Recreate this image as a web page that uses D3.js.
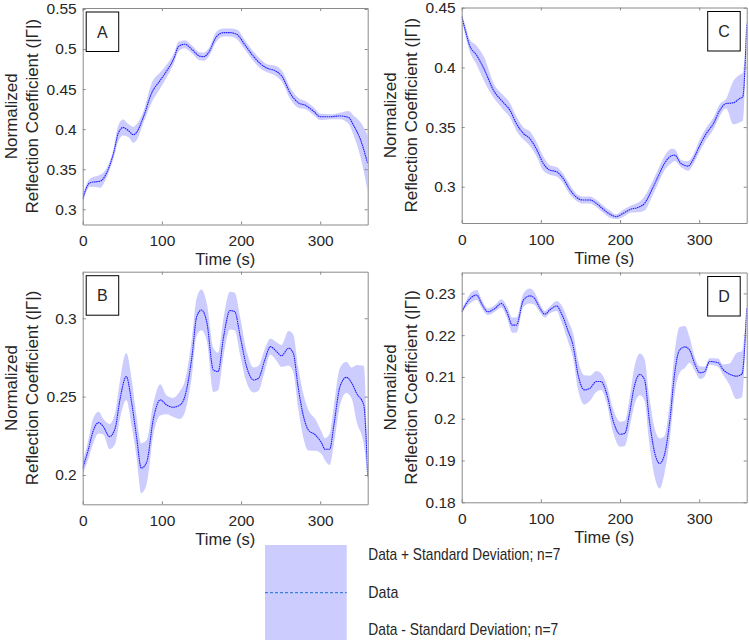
<!DOCTYPE html>
<html>
<head>
<meta charset="utf-8">
<script src="https://cdn.jsdelivr.net/npm/d3@7"></script>
<style>
  body { margin: 0; background: #fff; }
  svg text { font-family: "Liberation Sans", Arial, Helvetica, sans-serif; fill: #262626; }
</style>
</head>
<body>
<div id="chart"></div>
<script>
// panel A
const timeA = [0, 9, 18, 22, 30, 39, 45, 51, 58, 64, 68, 77, 87, 98, 106, 115, 121, 129, 138, 148, 153, 159, 169, 178, 186, 195, 205, 216, 224, 233, 243, 252, 262, 273, 281, 292, 300, 313, 325, 336, 342, 351, 360];
const valueA = [0.313, 0.333, 0.3345, 0.335, 0.345, 0.37, 0.395, 0.402, 0.398, 0.393, 0.396, 0.416, 0.445, 0.461, 0.4725, 0.488, 0.503, 0.506, 0.4995, 0.491, 0.4905, 0.4955, 0.5155, 0.5205, 0.5205, 0.518, 0.505, 0.4905, 0.482, 0.476, 0.473, 0.4655, 0.445, 0.4325, 0.43, 0.422, 0.4155, 0.4155, 0.4165, 0.4145, 0.405, 0.3865, 0.357];
const sdA = [0.005, 0.005, 0.007, 0.008, 0.006, 0.006, 0.01, 0.01, 0.008, 0.01, 0.01, 0.007, 0.012, 0.01, 0.008, 0.006, 0.006, 0.005, 0.005, 0.005, 0.005, 0.005, 0.006, 0.005, 0.005, 0.006, 0.006, 0.006, 0.006, 0.005, 0.006, 0.007, 0.007, 0.006, 0.005, 0.005, 0.004, 0.003, 0.004, 0.008, 0.012, 0.022, 0.035];

// panel B
const timeB = [0, 7, 13, 20, 26, 34, 41, 47, 55, 62, 68, 74, 81, 89, 98, 106, 114, 123, 129, 138, 144, 150, 157, 165, 171, 178, 186, 192, 199, 207, 216, 222, 230, 237, 245, 251, 260, 266, 272, 279, 285, 294, 302, 306, 312, 317, 325, 333, 340, 346, 355, 360];
const valueB = [0.2043, 0.216, 0.2277, 0.2334, 0.2309, 0.2245, 0.2298, 0.2479, 0.2628, 0.2457, 0.2245, 0.2043, 0.2085, 0.2351, 0.2479, 0.2447, 0.2432, 0.2447, 0.25, 0.2755, 0.301, 0.3053, 0.2968, 0.267, 0.266, 0.2883, 0.3049, 0.3043, 0.2883, 0.2691, 0.2606, 0.2617, 0.2734, 0.2819, 0.2787, 0.276, 0.2809, 0.2777, 0.2564, 0.2372, 0.2287, 0.2255, 0.2202, 0.2164, 0.2164, 0.2309, 0.2564, 0.2623, 0.2585, 0.2521, 0.2447, 0.199];
const sdB = [0.004, 0.006, 0.008, 0.007, 0.005, 0.008, 0.01, 0.012, 0.015, 0.015, 0.013, 0.016, 0.014, 0.01, 0.01, 0.006, 0.006, 0.009, 0.01, 0.012, 0.012, 0.013, 0.012, 0.014, 0.012, 0.012, 0.012, 0.012, 0.012, 0.01, 0.008, 0.008, 0.007, 0.005, 0.006, 0.007, 0.011, 0.012, 0.013, 0.014, 0.013, 0.01, 0.007, 0.007, 0.01, 0.012, 0.012, 0.01, 0.01, 0.018, 0.025, 0.002];

// panel C
const timeC = [0, 4, 10, 19, 29, 40, 52, 61, 69, 78, 86, 95, 103, 111, 120, 128, 137, 145, 153, 162, 170, 179, 187, 195, 204, 214, 223, 231, 240, 248, 256, 265, 269, 277, 286, 292, 301, 309, 318, 326, 334, 343, 351, 355, 360];
const valueC = [0.4428, 0.4325, 0.4185, 0.41, 0.3976, 0.381, 0.371, 0.364, 0.353, 0.3446, 0.3404, 0.3307, 0.3195, 0.314, 0.3125, 0.307, 0.2972, 0.2911, 0.2889, 0.2889, 0.2861, 0.281, 0.2771, 0.2749, 0.2777, 0.2813, 0.2827, 0.2861, 0.2972, 0.3084, 0.3195, 0.3259, 0.3265, 0.3195, 0.3173, 0.3223, 0.3349, 0.3446, 0.353, 0.3641, 0.3697, 0.3703, 0.3739, 0.3753, 0.4366];
const sdC = [0.002, 0.004, 0.005, 0.008, 0.01, 0.006, 0.006, 0.006, 0.006, 0.005, 0.006, 0.006, 0.006, 0.004, 0.004, 0.004, 0.004, 0.003, 0.003, 0.003, 0.003, 0.003, 0.003, 0.002, 0.003, 0.003, 0.004, 0.006, 0.006, 0.006, 0.006, 0.006, 0.005, 0.003, 0.004, 0.004, 0.005, 0.005, 0.005, 0.005, 0.004, 0.018, 0.02, 0.02, 0.001];

// panel D
const timeD = [0, 6, 12, 19, 25, 33, 42, 50, 57, 64, 69, 78, 86, 92, 99, 105, 111, 120, 126, 134, 141, 147, 155, 162, 170, 176, 183, 191, 200, 206, 212, 218, 225, 231, 237, 244, 250, 256, 263, 269, 275, 282, 288, 294, 301, 307, 313, 324, 330, 338, 347, 354, 360];
const valueD = [0.2256, 0.2276, 0.229, 0.2296, 0.2276, 0.2256, 0.2264, 0.2276, 0.2256, 0.2224, 0.2224, 0.2284, 0.2294, 0.2288, 0.2264, 0.225, 0.226, 0.227, 0.2252, 0.2212, 0.2172, 0.2105, 0.2069, 0.2073, 0.2089, 0.2089, 0.2061, 0.1997, 0.1963, 0.1965, 0.2013, 0.2077, 0.2106, 0.2093, 0.1997, 0.1917, 0.1893, 0.1913, 0.1997, 0.2109, 0.2164, 0.2172, 0.2164, 0.2133, 0.211, 0.2113, 0.2137, 0.2134, 0.2118, 0.2107, 0.2102, 0.2107, 0.2264];
const sdD = [0.0005, 0.0008, 0.0012, 0.0012, 0.001, 0.0008, 0.0008, 0.001, 0.0014, 0.0018, 0.0018, 0.0016, 0.0018, 0.0015, 0.001, 0.0008, 0.0008, 0.0012, 0.002, 0.0025, 0.003, 0.0035, 0.0035, 0.003, 0.0025, 0.002, 0.0022, 0.0028, 0.003, 0.003, 0.0035, 0.0045, 0.005, 0.005, 0.0055, 0.0058, 0.006, 0.0045, 0.0045, 0.005, 0.0055, 0.005, 0.003, 0.0017, 0.0015, 0.0012, 0.0008, 0.001, 0.0012, 0.0025, 0.0055, 0.0055, 0.0003];

const xTicks = [0, 100, 200, 300];
const yTicksA = [0.3, 0.35, 0.4, 0.45, 0.5, 0.55];
const yTicksB = [0.2, 0.25, 0.3];
const yTicksC = [0.3, 0.35, 0.4, 0.45];
const yTicksD = [0.18, 0.19, 0.2, 0.21, 0.22, 0.23];

const legendLabels = ["Data + Standard Deviation; n=7", "Data", "Data - Standard Deviation; n=7"];

const width = 749, height = 643;
const axisColor = "#8a8a8a";
const bandColor = "#ccccff";
const lineColor = "#1f1fff";

const svg = d3.select("#chart").append("svg")
    .attr("width", width)
    .attr("height", height);

function drawPanel(p, idx) {
    const x = d3.scaleLinear().domain([0, 360]).range([p.left, p.right]);
    const y = d3.scaleLinear().domain(p.yDomain).range([p.bottom, p.top]);

    const rows = p.time.map((t, i) => ({ t: t, v: p.value[i], sd: p.sd[i] }));

    const g = svg.append("g");

    g.append("clipPath").attr("id", "clip" + idx)
        .append("rect")
        .attr("x", p.left).attr("y", p.top)
        .attr("width", p.right - p.left).attr("height", p.bottom - p.top);

    const plot = g.append("g").attr("clip-path", "url(#clip" + idx + ")");

    const area = d3.area()
        .curve(d3.curveMonotoneX)
        .x(d => x(d.t))
        .y0(d => y(d.v - d.sd))
        .y1(d => y(d.v + d.sd));

    const line = d3.line()
        .curve(d3.curveMonotoneX)
        .x(d => x(d.t))
        .y(d => y(d.v));

    plot.append("path").datum(rows)
        .attr("d", area)
        .attr("fill", bandColor);

    plot.append("path").datum(rows)
        .attr("d", line)
        .attr("fill", "none")
        .attr("stroke", lineColor)
        .attr("stroke-width", 1.1)
        .attr("stroke-dasharray", "1.6,0.6");

    // axes, ticks pointing inwards like matlab
    const fmt = v => String(+v.toFixed(3));

    const bottomAxis = g.append("g")
        .attr("transform", `translate(0,${p.bottom})`)
        .call(d3.axisBottom(x).tickValues(xTicks).tickSizeInner(-3).tickSizeOuter(0).tickPadding(10.5));
    const leftAxis = g.append("g")
        .attr("transform", `translate(${p.left},0)`)
        .call(d3.axisLeft(y).tickValues(p.yTicks).tickFormat(fmt).tickSizeInner(-3).tickSizeOuter(0).tickPadding(6));
    const topAxis = g.append("g")
        .attr("transform", `translate(0,${p.top})`)
        .call(d3.axisTop(x).tickValues(xTicks).tickFormat("").tickSizeInner(-3).tickSizeOuter(0));
    const rightAxis = g.append("g")
        .attr("transform", `translate(${p.right},0)`)
        .call(d3.axisRight(y).tickValues(p.yTicks).tickFormat("").tickSizeInner(-3).tickSizeOuter(0));

    [bottomAxis, leftAxis, topAxis, rightAxis].forEach(a => {
        a.selectAll("path, line").attr("stroke", axisColor);
        a.selectAll("text")
            .style("font-size", "15.5px")
            .style("font-family", '"Liberation Sans", Arial, sans-serif')
            .attr("fill", "#262626");
    });

    g.append("text")
        .attr("x", (p.left + p.right) / 2)
        .attr("y", p.bottom + 40.5)
        .attr("text-anchor", "middle")
        .style("font-size", "16.5px")
        .text("Time (s)");

    const yMid = (p.top + p.bottom) / 2;
    g.append("text")
        .attr("transform", `translate(${p.left - 65.5},${yMid}) rotate(-90)`)
        .attr("text-anchor", "middle")
        .style("font-size", "17px")
        .text("Normalized");
    g.append("text")
        .attr("transform", `translate(${p.left - 45},${yMid}) rotate(-90)`)
        .attr("text-anchor", "middle")
        .style("font-size", "17px")
        .text("Reflection Coefficient (|Γ|)");

    // panel letter
    const bx = p.boxRight ? p.right - 39 : p.left + 3.5;
    const by = p.top + 4;
    g.append("rect")
        .attr("x", bx).attr("y", by)
        .attr("width", 32.5).attr("height", 39.5)
        .attr("fill", "#fff")
        .attr("stroke", "#000")
        .attr("stroke-width", 1);
    g.append("text")
        .attr("x", bx + 16.25).attr("y", by + 25.5)
        .attr("text-anchor", "middle")
        .style("font-size", "16px")
        .attr("fill", "#000")
        .text(p.name);
}

const panels = [
    { name: "A", time: timeA, value: valueA, sd: sdA, yTicks: yTicksA, yDomain: [0.281, 0.5512], left: 82.7, right: 367.7, top: 8, bottom: 224.5, boxRight: false },
    { name: "B", time: timeB, value: valueB, sd: sdB, yTicks: yTicksB, yDomain: [0.1813, 0.3297], left: 82.7, right: 367.7, top: 271.7, bottom: 504.3, boxRight: false },
    { name: "C", time: timeC, value: valueC, sd: sdC, yTicks: yTicksC, yDomain: [0.2696, 0.4502], left: 461.7, right: 746.7, top: 7.5, bottom: 223, boxRight: true },
    { name: "D", time: timeD, value: valueD, sd: sdD, yTicks: yTicksD, yDomain: [0.18, 0.235], left: 461.7, right: 746.7, top: 272.5, bottom: 502.3, boxRight: true }
];

panels.forEach(drawPanel);

// legend
const legend = svg.append("g");
legend.append("rect")
    .attr("x", 265).attr("y", 545)
    .attr("width", 81.7).attr("height", 95)
    .attr("fill", bandColor);
legend.append("line")
    .attr("x1", 265).attr("x2", 346.7)
    .attr("y1", 592.7).attr("y2", 592.7)
    .attr("stroke", "#3f7fdc")
    .attr("stroke-width", 1.2)
    .attr("stroke-dasharray", "3,2");

const legendY = [559.5, 598, 634.5];
const legendW = [192, 30, 190];
legendLabels.forEach((lab, i) => {
    legend.append("text")
        .attr("x", 368.3)
        .attr("y", legendY[i])
        .style("font-size", "17px")
        .style("font-family", '"Liberation Sans Narrow", "Arial Narrow", "Liberation Sans", sans-serif')
        .attr("textLength", legendW[i])
        .attr("lengthAdjust", "spacingAndGlyphs")
        .text(lab);
});
</script>
</body>
</html>
